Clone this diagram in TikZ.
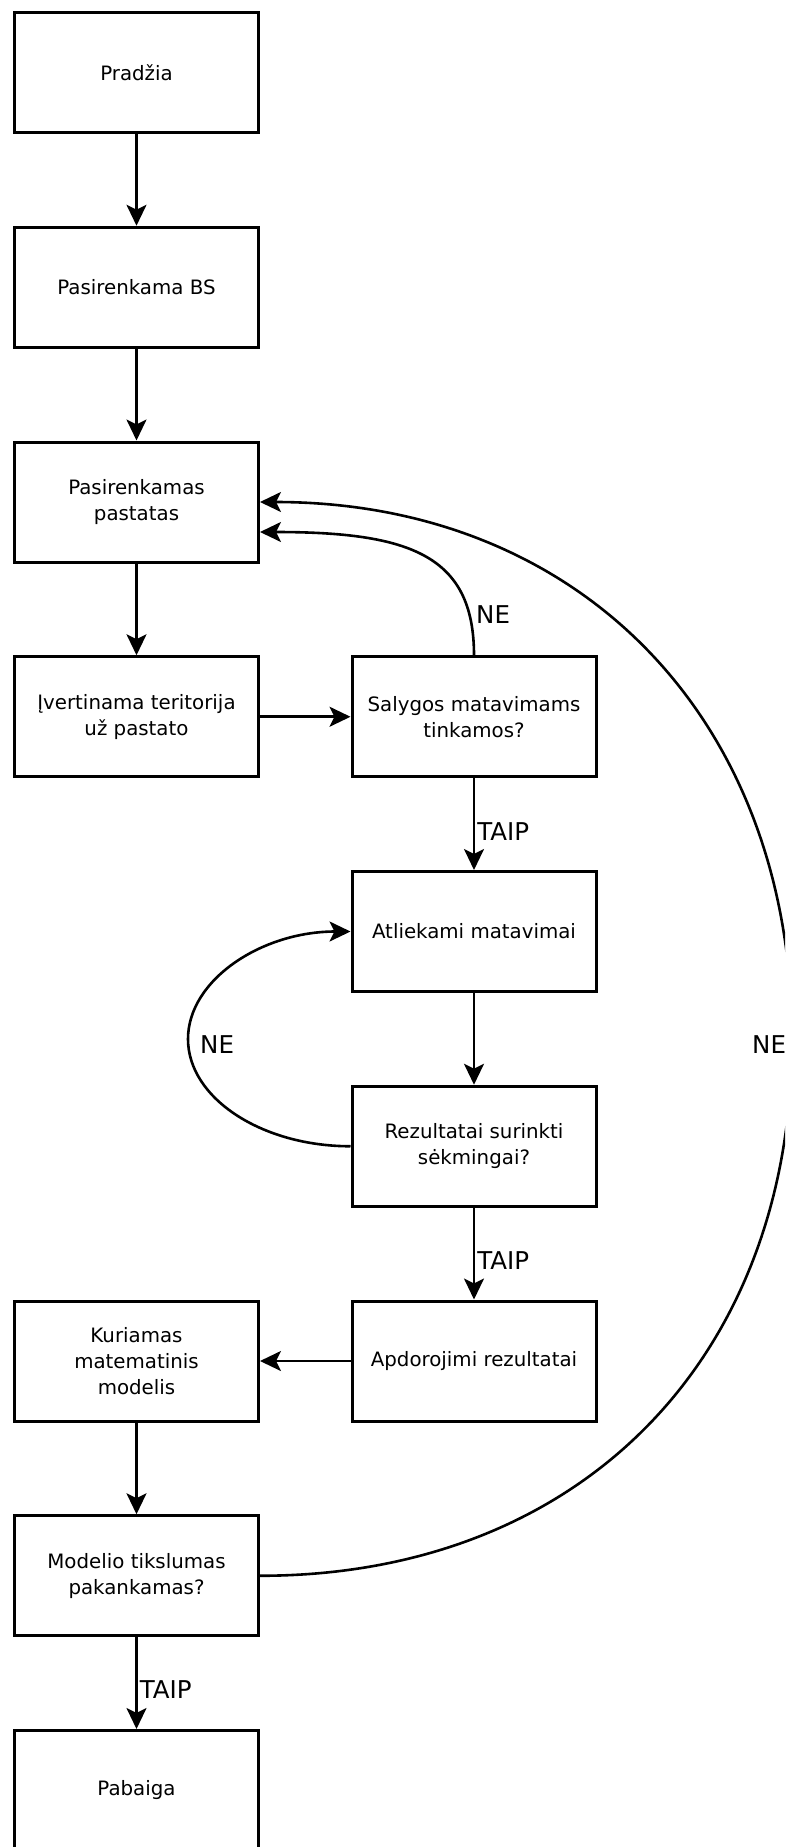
\documentclass[tikz,border=0pt]{standalone}
\usepackage{fontspec}
\setmainfont{DejaVu Sans}
\usetikzlibrary{arrows.meta}
\begin{document}
\begin{tikzpicture}[x=1pt,y=-1pt,
  box/.style={draw, line width=3pt, minimum width=244pt, minimum height=120pt, align=center, inner sep=0pt, font=\fontsize{19.8}{26}\selectfont},
  conn/.style={line width=2.6pt, -{Stealth[length=21pt,width=20pt,inset=5pt]}},
  lbl/.style={inner sep=0pt, anchor=west, font=\fontsize{24.5}{29}\selectfont}]
\useasboundingbox (0,0) rectangle (785,1847);
\clip (0,0) rectangle (785,1847);
\node[box] (start) at (136.5,72.5) {Pradžia};
\node[box] (bs) at (136.5,287.25) {Pasirenkama BS};
\node[box] (pas) at (136.5,502) {Pasirenkamas\\pastatas};
\node[box] (ivert) at (136.5,716.75) {Įvertinama teritorija\\už pastato};
\node[box] (sal) at (474,716.75) {Salygos matavimams\\tinkamos?};
\node[box] (atl) at (474,931.5) {Atliekami matavimai};
\node[box] (rez) at (474,1146.25) {Rezultatai surinkti\\sėkmingai?};
\node[box] (apd) at (474,1361) {Apdorojimi rezultatai};
\node[box] (kur) at (136.5,1361) {Kuriamas\\matematinis\\modelis};
\node[box] (mod) at (136.5,1575.75) {Modelio tikslumas\\pakankamas?};
\node[box] (pab) at (136.5,1790.5) {Pabaiga};
\draw[conn] (start) -- (bs);
\draw[conn] (bs) -- (pas);
\draw[conn] (pas) -- (ivert);
\draw[conn] (ivert) -- (sal);
\draw[conn] (sal) -- node[lbl,pos=0.577,xshift=2pt] (taip1) {TAIP} (atl);
\draw[conn] (atl) -- (rez);
\draw[conn] (rez) -- node[lbl,pos=0.572,xshift=2pt] (taip2) {TAIP} (apd);
\draw[conn] (apd) -- (kur);
\draw[conn] (kur) -- (mod);
\draw[conn] (mod) -- node[lbl,pos=0.566,xshift=2pt] (taip3) {TAIP} (pab);
\coordinate (pasin) at ([yshift=-30pt]pas.east);
\draw[conn] (sal.north) .. controls +(0,-100) and +(150,0) .. (pasin);
\node[lbl] (ne1) at (476,615) {NE};
\coordinate (lmid) at (188,1039);
\draw[conn] (rez.west) .. controls +(-89,0) and +(0,59) .. (lmid) .. controls +(0,-59) and +(-89,0) .. (atl.west);
\node[lbl] (ne2) at (200,1045) {NE};
\coordinate (bigmid) at (792,1039);
\draw[conn] (mod.east) .. controls +(318,0) and +(0,322) .. (bigmid) .. controls +(0,-322) and +(318,0) .. (pas.east);
\node[lbl] (ne3) at (752,1045) {NE};
\end{tikzpicture}
\end{document}
